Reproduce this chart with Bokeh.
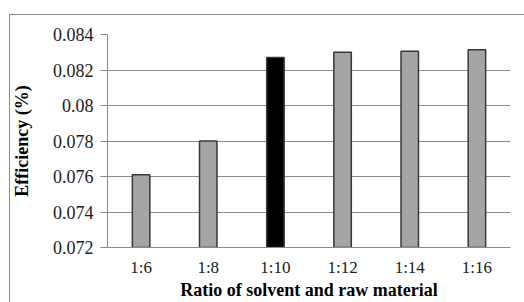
from bokeh.plotting import figure
from bokeh.models import ColumnDataSource, Range1d, FixedTicker
from bokeh.embed import file_html
from bokeh.resources import INLINE

ratios = ["1:6", "1:8", "1:10", "1:12", "1:14", "1:16"]
efficiency = [0.0761, 0.0780, 0.0827, 0.0830, 0.08306, 0.08314]
colors = ["#a5a5a5", "#a5a5a5", "#000000", "#a5a5a5", "#a5a5a5", "#a5a5a5"]
y_ticks = [0.072, 0.074, 0.076, 0.078, 0.08, 0.082, 0.084]
y_tick_labels = ["0.072", "0.074", "0.076", "0.078", "0.08", "0.082", "0.084"]

src = ColumnDataSource(dict(x=ratios, top=efficiency, color=colors))

border_css = ("linear-gradient(#8c8c8c, #8c8c8c) 9px 14px / 100% 1px no-repeat, "
              "linear-gradient(#8c8c8c, #8c8c8c) 9px 14px / 1px 100% no-repeat, #ffffff")

p = figure(x_range=ratios, y_range=Range1d(0.072, 0.084),
           width=524, height=302, output_backend="svg", toolbar_location=None,
           min_border_left=107, min_border_right=14, min_border_top=34, min_border_bottom=55,
           border_fill_color=None, background_fill_color="#ffffff",
           styles={"background": border_css})
p.vbar(x="x", top="top", bottom=0.072, width=0.26, source=src,
       fill_color="color", line_color="#383838", line_width=1.5)

p.outline_line_color = None
p.xgrid.grid_line_color = None
p.ygrid.grid_line_color = "#8a8a8a"
p.ygrid.grid_line_width = 1

p.yaxis.ticker = FixedTicker(ticks=y_ticks)
p.yaxis.major_label_overrides = {t: l for t, l in zip(y_ticks, y_tick_labels)}
p.yaxis.axis_line_color = "#8a8a8a"
p.yaxis.major_tick_line_color = "#8a8a8a"
p.yaxis.major_tick_out = 7
p.yaxis.major_tick_in = 0
p.yaxis.minor_tick_line_color = None
p.yaxis.axis_label = "Efficiency (%)"

p.xaxis.axis_line_color = "#8a8a8a"
p.xaxis.major_tick_line_color = None
p.xaxis.axis_label = "Ratio of solvent and raw material"

for ax in (p.xaxis[0], p.yaxis[0]):
    ax.major_label_text_font = "Liberation Serif"
    ax.major_label_text_font_size = "18px"
    ax.major_label_text_color = "#202020"
    ax.axis_label_text_font = "Liberation Serif"
    ax.axis_label_text_font_size = "18px"
    ax.axis_label_text_font_style = "bold"
    ax.axis_label_text_color = "#000000"

p.xaxis.major_label_text_font_size = "17px"
p.yaxis.major_label_standoff = 7
p.yaxis.axis_label_standoff = 18
p.xaxis.major_label_standoff = 4
p.xaxis.axis_label_standoff = 0

open("out.html", "w").write(file_html(p, INLINE))
